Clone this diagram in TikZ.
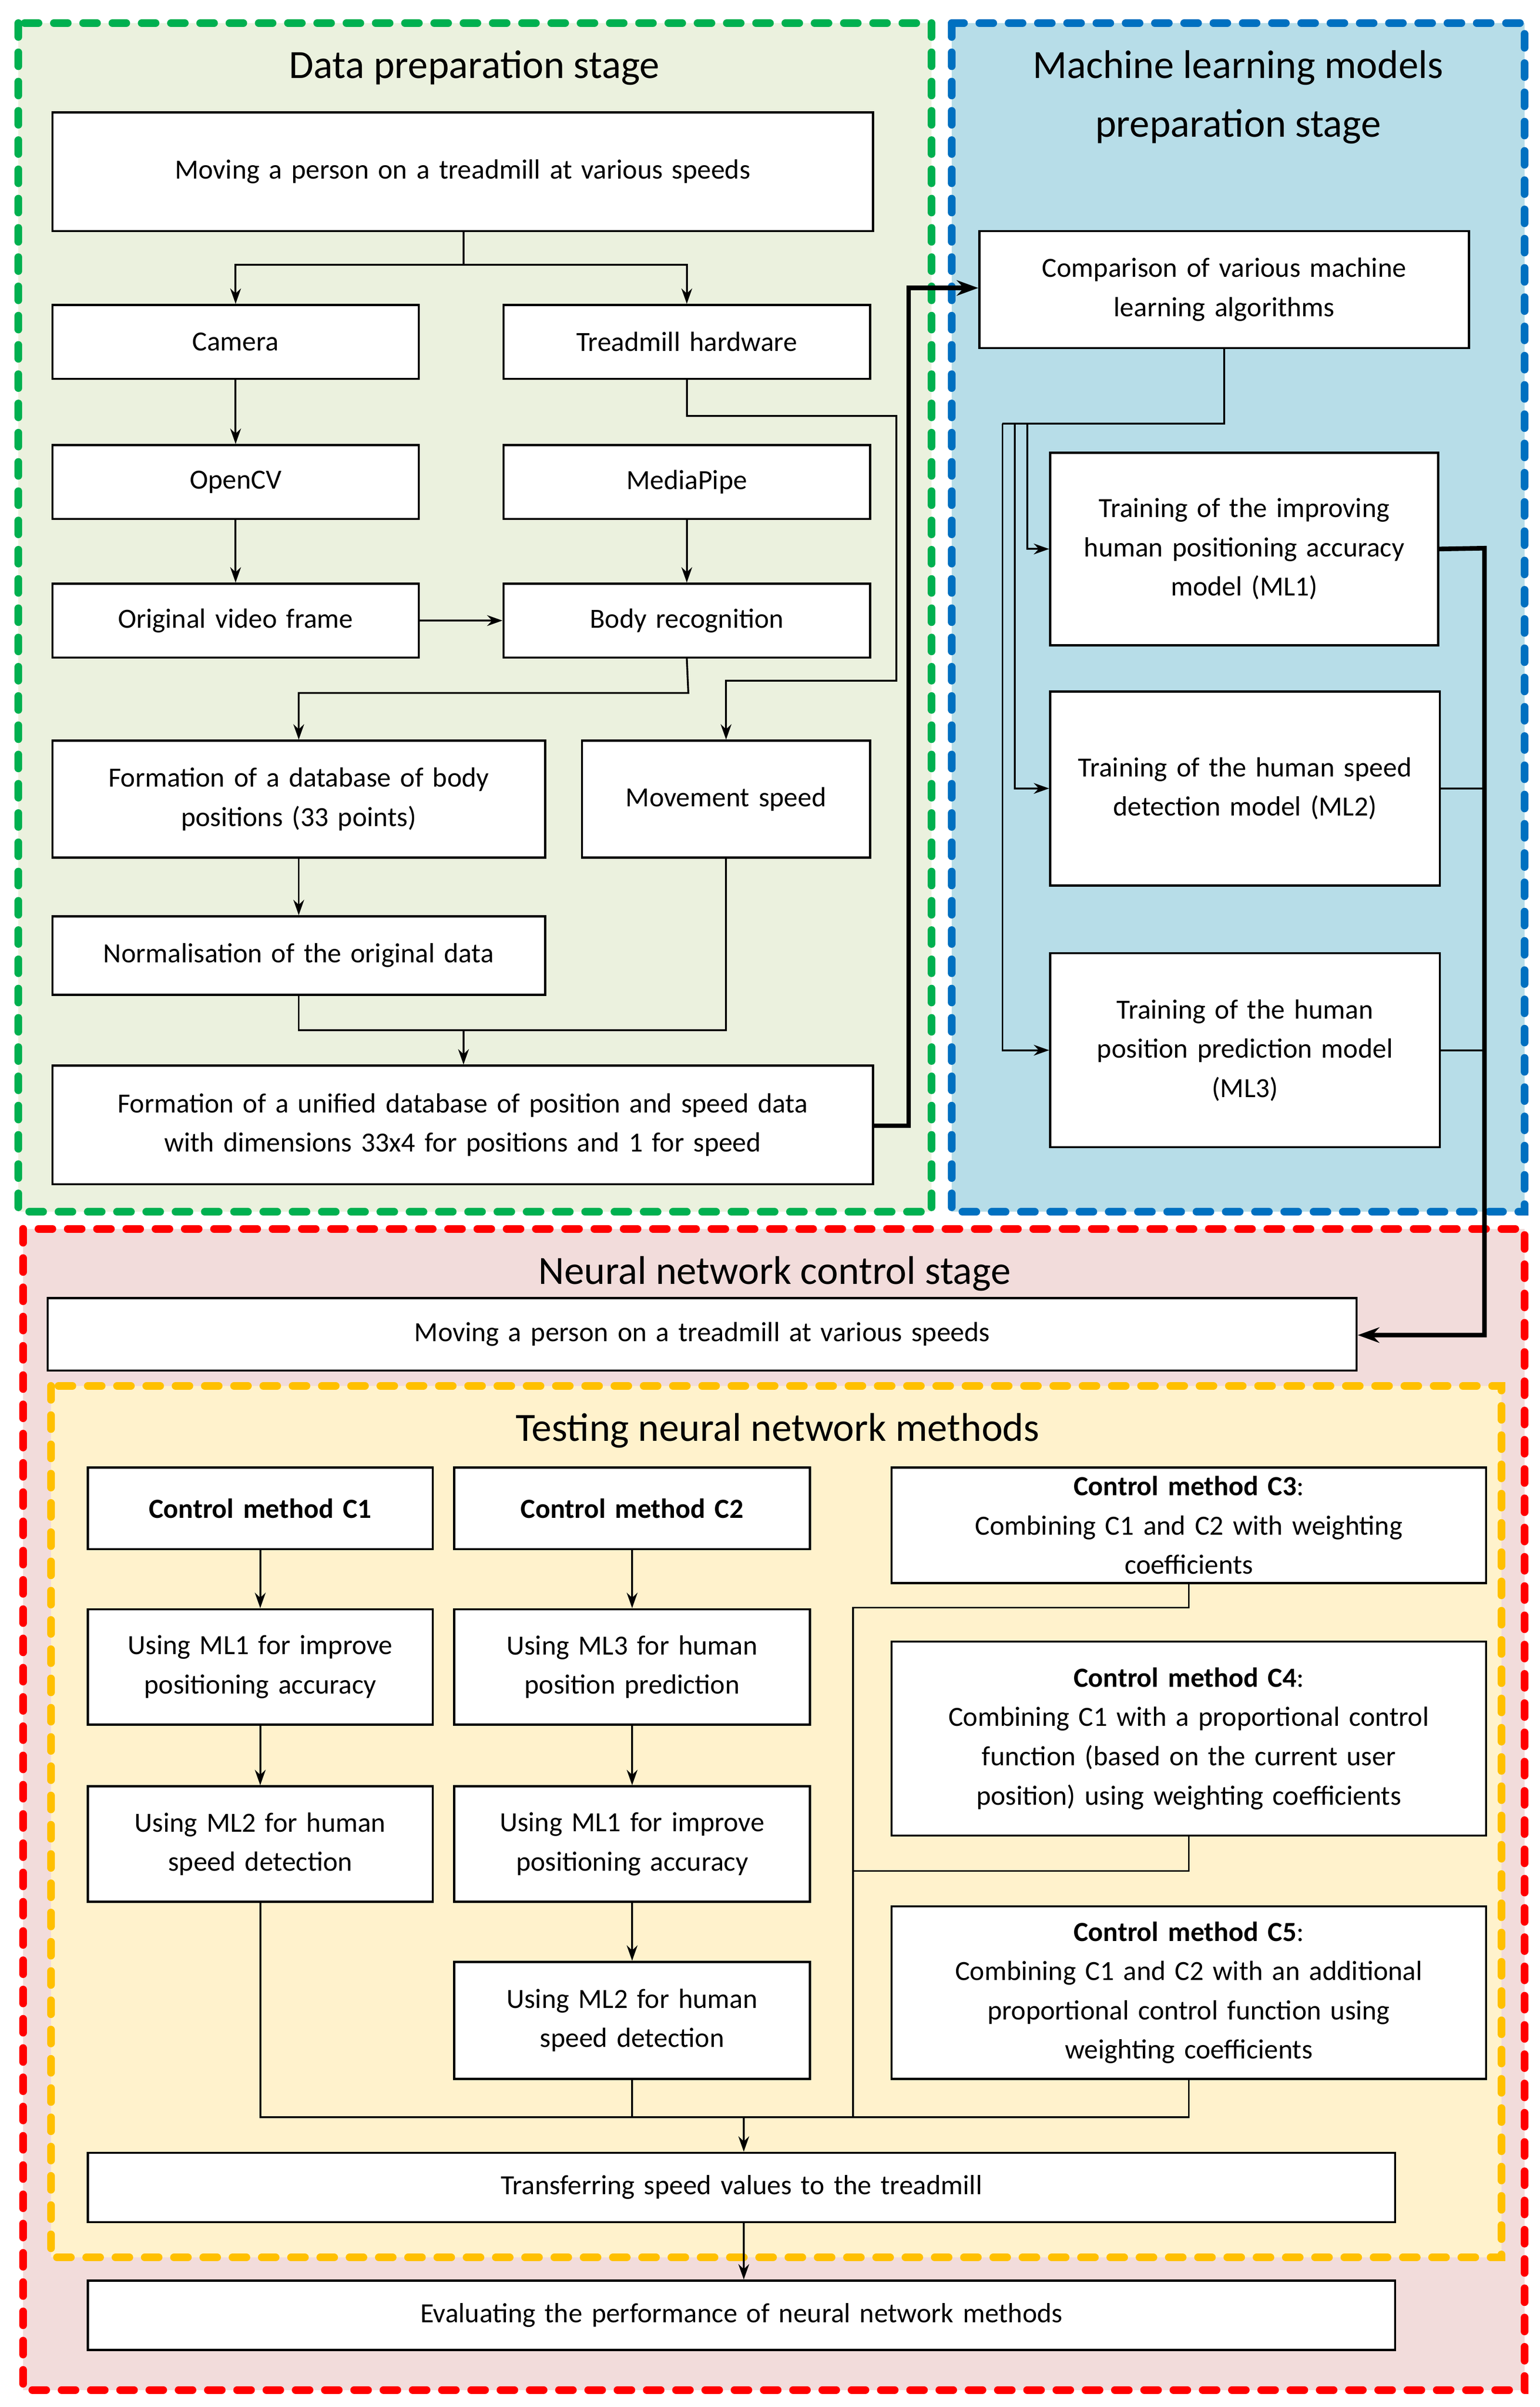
\documentclass[tikz,border=0pt]{standalone}
\usepackage{fontspec}
\setmainfont{Carlito}
\usetikzlibrary{arrows.meta}
\definecolor{gfill}{HTML}{EBF1DE}\definecolor{gline}{HTML}{00B050}
\definecolor{bfill}{HTML}{B7DDE8}\definecolor{bline}{HTML}{0070C0}
\definecolor{rfill}{HTML}{F2DCDB}\definecolor{rline}{HTML}{FF0000}
\definecolor{yfill}{HTML}{FFF2CC}\definecolor{yline}{HTML}{FFC000}
\tikzset{
 box/.style={draw=black,fill=white,line width=1.4pt,align=center,inner sep=0pt,font=\fontsize{18}{25.5}\selectfont},
 stage/.style={line width=5pt,dash pattern=on 9pt off 10pt,line cap=round},
 title/.style={font=\fontsize{26}{38}\selectfont,align=center},
 ln/.style={line width=1.2pt},
 ar/.style={line width=1.2pt,-{Stealth[length=10pt,width=7pt]}},
 thk/.style={line width=3pt},
 thkar/.style={line width=3pt,-{Stealth[length=14pt,width=10pt]}},
}
\newcommand\bx[6]{\node[box,minimum width=#4pt-#2pt,minimum height=#5pt-#3pt,text width=#4pt-#2pt-6pt] (#1) at ({(#2+#4)/2},{(#3+#5)/2}) {#6};}
\begin{document}
\begin{tikzpicture}[x=1pt,y=-1pt]
\useasboundingbox (0,0) rectangle (1000,1563.1);
% stages
\fill[gfill] (12,15) rectangle (605,787);
\draw[stage,draw=gline] (12,15) rectangle (605,787);
\fill[bfill] (618,15) rectangle (990,787);
\draw[stage,draw=bline] (618,15) rectangle (990,787);
\fill[rfill] (15,798) rectangle (990,1552);
\draw[stage,draw=rline] (15,798) rectangle (990,1552);
\fill[yfill] (33,900) rectangle (975,1466);
\draw[stage,draw=yline] (33,900) rectangle (975,1466);
\node[title] (t1) at (308,44) {Data preparation stage};
\node[title] (t2) at (804,63) {Machine learning models\\preparation stage};
\node[title] (t3) at (503,827) {Neural network control stage};
\node[title] (t4) at (505,929) {Testing neural network methods};
% boxes
\bx{mv}{34}{73}{567}{150}{Moving a person on a treadmill at various speeds}
\bx{cam}{34}{198}{272}{246}{Camera}
\bx{thw}{327}{198}{565}{246}{Treadmill hardware}
\bx{ocv}{34}{289}{272}{337}{OpenCV}
\bx{mp}{327}{289}{565}{337}{MediaPipe}
\bx{ovf}{34}{379}{272}{427}{Original video frame}
\bx{br}{327}{379}{565}{427}{Body recognition}
\bx{fdb}{34}{481}{354}{557}{Formation of a database of body\\positions (33 points)}
\bx{ms}{378}{481}{565}{557}{Movement speed}
\bx{nrm}{34}{595}{354}{646}{Normalisation of the original data}
\bx{udb}{34}{692}{567}{769}{Formation of a unified database of position and speed data\\with dimensions 33x4 for positions and 1 for speed}
\bx{cmp}{636}{150}{954}{226}{Comparison of various machine\\learning algorithms}
\bx{ml1}{682}{294}{934}{419}{Training of the improving\\human positioning accuracy\\model (ML1)}
\bx{ml2}{682}{449}{935}{575}{Training of the human speed\\detection model (ML2)\\[22pt]}
\bx{ml3}{682}{619}{935}{745}{Training of the human\\position prediction model\\(ML3)}
\bx{nmv}{31}{843}{881}{890}{Moving a person on a treadmill at various speeds}
\bx{c1}{57}{953}{281}{1006}{\textbf{Control method C1}}
\bx{c2}{295}{953}{526}{1006}{\textbf{Control method C2}}
\bx{c3}{579}{953}{965}{1028}{\textbf{Control method C3}:\\Combining C1 and C2 with weighting\\coefficients}
\bx{a1}{57}{1045}{281}{1120}{Using ML1 for improve\\positioning accuracy}
\bx{b1}{295}{1045}{526}{1120}{Using ML3 for human\\position prediction}
\bx{a2}{57}{1160}{281}{1235}{Using ML2 for human\\speed detection}
\bx{b2}{295}{1160}{526}{1235}{Using ML1 for improve\\positioning accuracy}
\bx{b3}{295}{1274}{526}{1350}{Using ML2 for human\\speed detection}
\bx{c4}{579}{1066}{965}{1192}{\textbf{Control method C4}:\\Combining C1 with a proportional control\\function (based on the current user\\position) using weighting coefficients}
\bx{c5}{579}{1238}{965}{1350}{\textbf{Control method C5}:\\Combining C1 and C2 with an additional\\proportional control function using\\weighting coefficients}
\bx{tr}{57}{1398}{906}{1443}{Transferring speed values to the treadmill}
\bx{ev}{57}{1481}{906}{1526}{Evaluating the performance of neural network methods}
% connectors (data stage)
\coordinate (j1) at (301,172);
\draw[ln] (mv.south -| j1) -- (j1);
\draw[ar] (j1) -| (cam.north);
\draw[ar] (j1) -| (thw.north);
\draw[ar] (cam) -- (ocv);
\draw[ar] (ocv) -- (ovf);
\draw[ar] (mp) -- (br);
\draw[ar] (ovf) -- (br);
\coordinate (j2) at (582,270);
\coordinate (j3) at (582,442);
\draw[ar] (thw.south) |- (j2) -- (j3) -| (ms.north);
\coordinate (j4) at (447,450);
\draw[ar] (br.south) -- (j4) -| (fdb.north);
\draw[ar] (fdb) -- (nrm);
\coordinate (j5) at (301,669);
\draw[ln] (nrm.south) |- (ms.south |- j5) -- (ms.south);
\draw[ar] (j5) -- (udb.north -| j5);
\coordinate (k1) at (590,731);
\coordinate (k2) at (590,187);
\draw[thkar] (udb.east |- k1) -- (k1) -- (k2) -- (cmp.west |- k2);
% ML stage
\coordinate (m1) at (795,275);
\coordinate (m2) at (651,275);
\draw[ln] (cmp.south -| m1) -- (m1) -- (m2);
\draw[ar] (667,275) |- (ml1.west);
\draw[ar] (659,275) |- (ml2.west);
\draw[ar] (m2) |- (ml3.west);
\coordinate (r1) at (964,356);
\coordinate (r2) at (964,867);
\draw[thkar] (ml1.east) -- (r1) -- (r2) -- (nmv.east |- r2);
\draw[ln] (ml2.east) -- (ml2.east -| r1);
\draw[ln] (ml3.east) -- (ml3.east -| r1);
% testing
\draw[ar] (c1) -- (a1);
\draw[ar] (a1) -- (a2);
\draw[ar] (c2) -- (b1);
\draw[ar] (b1) -- (b2);
\draw[ar] (b2) -- (b3);
\coordinate (s1) at (554,1375);
\coordinate (s2) at (554,1044);
\coordinate (s3) at (554,1215);
\draw[ln] (a2.south) |- (c5.south |- s1) -- (c5.south);
\draw[ln] (b3.south) -- (b3.south |- s1);
\draw[ln] (c3.south) |- (s2) -- (s1);
\draw[ln] (c4.south) |- (s3);
\coordinate (s4) at (483,1375);
\draw[ar] (s4) -- (tr.north -| s4);
\draw[ar] (tr.south -| s4) -- (ev.north -| s4);
\end{tikzpicture}
\end{document}
